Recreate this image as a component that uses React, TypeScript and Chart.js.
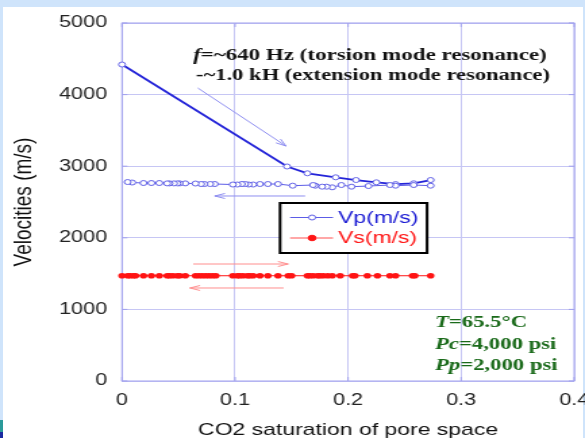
import React, { useEffect, useRef } from "react";
import { Chart, registerables } from "chart.js";

Chart.register(...registerables);

// ---------- data ----------
const X_TICKS = [0, 0.1, 0.2, 0.3, 0.4];
const Y_TICKS = [0, 1000, 2000, 3000, 4000, 5000];

// Vp forward path (CO2 injection)
const vpForwardX = [0, 0.146, 0.164, 0.189, 0.207, 0.225, 0.242, 0.258, 0.273];
const vpForwardY = [4420, 2996, 2901, 2845, 2807, 2775, 2750, 2761, 2807];
// Vp return path
const vpReturnX = [0.273, 0.258, 0.242, 0.237, 0.218, 0.203, 0.194, 0.186, 0.181, 0.177,
  0.171, 0.169, 0.151, 0.138, 0.129, 0.122, 0.116, 0.112, 0.109, 0.106,
  0.102, 0.098, 0.082, 0.078, 0.073, 0.070, 0.065, 0.056, 0.051, 0.049,
  0.046, 0.042, 0.040, 0.033, 0.026, 0.019, 0.009, 0.005];
const vpReturnY = [2728, 2737, 2728, 2737, 2723, 2714, 2737, 2705, 2714, 2714,
  2728, 2737, 2728, 2751, 2751, 2751, 2744, 2744, 2751, 2751,
  2744, 2744, 2751, 2751, 2751, 2751, 2758, 2760, 2760, 2760,
  2760, 2760, 2760, 2765, 2765, 2765, 2772, 2779];

// Vs
const vsX = [0, 0.005, 0.007, 0.010, 0.012, 0.019, 0.026, 0.033, 0.040, 0.042,
  0.045, 0.049, 0.051, 0.056, 0.065, 0.068, 0.071, 0.074, 0.077, 0.080,
  0.083, 0.098, 0.102, 0.104, 0.107, 0.111, 0.113, 0.116, 0.122, 0.129,
  0.138, 0.147, 0.150, 0.164, 0.166, 0.169, 0.173, 0.175, 0.178, 0.182,
  0.186, 0.193, 0.204, 0.206, 0.217, 0.226, 0.237, 0.242, 0.257, 0.259, 0.273];
const vsY = [1470, 1470, 1470, 1470, 1470, 1470, 1470, 1470, 1470, 1470,
  1470, 1470, 1470, 1470, 1470, 1470, 1470, 1470, 1470, 1470,
  1470, 1470, 1470, 1470, 1470, 1470, 1470, 1470, 1470, 1470,
  1470, 1470, 1470, 1470, 1470, 1470, 1470, 1470, 1470, 1470,
  1470, 1470, 1470, 1470, 1470, 1470, 1470, 1470, 1470, 1470, 1470];

const seriesLabels = ["Vp(m/s)", "Vs(m/s)"];

// direction arrows (data coordinates)
const arrowFromX = [0.067, 0.162, 0.063, 0.143];
const arrowFromY = [4092, 2584, 1634, 1299];
const arrowToX = [0.145, 0.082, 0.147, 0.060];
const arrowToY = [3282, 2584, 1634, 1299];
const arrowSeries = [0, 0, 1, 1];

const noteItalic = ["f", ""];
const noteText = ["=~640 Hz (torsion mode resonance)", "-~1.0 kH (extension mode resonance)"];
const condItalic = ["T", "Pc", "Pp"];
const condText = ["=65.5°C", "=4,000 psi", "=2,000 psi"];

const xTitle = "CO2 saturation of pore space";
const yTitle = "Velocities (m/s)";

// ---------- styling ----------
const LW = 433; // logical canvas width (stretched to 585 css px)
const H = 438;
const OUT_W = 585;
const SANS = '"Liberation Sans", Arial, Helvetica, sans-serif';
const SERIF = '"Liberation Serif", "Times New Roman", serif';
const GRID = "#c6c6f4";
const BORDER = "#a2a2ee";
const VP_COLOR = "#2424d8";
const VP_RET = "#5c5ce6";
const VS_COLOR = "#ff1414";
const ARROW_COLORS = ["#8e8ef0", "#ff8e8e"];

function drawRuns(ctx: CanvasRenderingContext2D, italic: string, rest: string, x: number, y: number, size: number, color: string) {
  ctx.fillStyle = color;
  ctx.textAlign = "left";
  ctx.textBaseline = "alphabetic";
  let cx = x;
  if (italic) {
    ctx.font = `italic bold ${size}px ${SERIF}`;
    ctx.fillText(italic, cx, y);
    cx += ctx.measureText(italic).width;
  }
  ctx.font = `bold ${size}px ${SERIF}`;
  ctx.fillText(rest, cx, y);
}

function drawArrow(ctx: CanvasRenderingContext2D, x1: number, y1: number, x2: number, y2: number, color: string) {
  ctx.strokeStyle = color;
  ctx.lineWidth = 1;
  ctx.beginPath();
  ctx.moveTo(x1, y1);
  ctx.lineTo(x2, y2);
  ctx.stroke();
  const ang = Math.atan2(y2 - y1, x2 - x1);
  const L = 8;
  const a = 0.32;
  ctx.beginPath();
  ctx.moveTo(x2 - L * Math.cos(ang - a), y2 - L * Math.sin(ang - a));
  ctx.lineTo(x2, y2);
  ctx.lineTo(x2 - L * Math.cos(ang + a), y2 - L * Math.sin(ang + a));
  ctx.stroke();
}

const overlayPlugin = {
  id: "overlay",
  beforeDatasetsDraw(chart: any) {
    const { ctx, chartArea: a, scales } = chart;
    ctx.save();
    ctx.strokeStyle = BORDER;
    ctx.lineWidth = 1;
    ctx.strokeRect(a.left, a.top, a.right - a.left, a.bottom - a.top);
    // inward tick marks
    const tk = 4;
    ctx.beginPath();
    for (const v of X_TICKS) {
      const px = scales.x.getPixelForValue(v);
      ctx.moveTo(px, a.bottom); ctx.lineTo(px, a.bottom - tk);
      ctx.moveTo(px, a.top); ctx.lineTo(px, a.top + tk);
    }
    for (const v of Y_TICKS) {
      const py = scales.y.getPixelForValue(v);
      ctx.moveTo(a.left, py); ctx.lineTo(a.left + tk, py);
      ctx.moveTo(a.right, py); ctx.lineTo(a.right - tk, py);
    }
    ctx.stroke();
    // arrows
    for (let i = 0; i < arrowFromX.length; i++) {
      drawArrow(
        ctx,
        scales.x.getPixelForValue(arrowFromX[i]),
        scales.y.getPixelForValue(arrowFromY[i]),
        scales.x.getPixelForValue(arrowToX[i]),
        scales.y.getPixelForValue(arrowToY[i]),
        ARROW_COLORS[arrowSeries[i]]
      );
    }
    ctx.restore();
  },
  afterDatasetsDraw(chart: any) {
    const { ctx } = chart;
    ctx.save();
    // notes at top
    drawRuns(ctx, noteItalic[0], noteText[0], 142.9, 60, 17, "#111");
    drawRuns(ctx, noteItalic[1], noteText[1], 145.1, 80, 16.7, "#111");
    // conditions
    const condY = [327, 348.5, 370];
    for (let i = 0; i < condText.length; i++) {
      drawRuns(ctx, condItalic[i], condText[i], 322, condY[i], 16.8, "#1a6a1a");
    }
    // legend
    const bx = 207.3, by = 203, bw = 108.8, bh = 50;
    ctx.fillStyle = "#fff";
    ctx.fillRect(bx, by, bw, bh);
    ctx.strokeStyle = "#000";
    ctx.lineWidth = 2;
    ctx.strokeRect(bx, by, bw, bh);
    const rows = [217.5, 238];
    chart.data.datasets.forEach((ds: any, i: number) => {
      const y = rows[i];
      ctx.strokeStyle = ds.legendLine;
      ctx.lineWidth = 1.2;
      ctx.beginPath();
      ctx.moveTo(214.7, y);
      ctx.lineTo(246.5, y);
      ctx.stroke();
      ctx.beginPath();
      ctx.arc(231, y, ds.pointRadius, 0, Math.PI * 2);
      ctx.fillStyle = ds.pointBackgroundColor;
      ctx.fill();
      ctx.lineWidth = 1;
      ctx.strokeStyle = ds.pointBorderColor;
      ctx.stroke();
      ctx.font = `17px ${SANS}`;
      ctx.textAlign = "left";
      ctx.textBaseline = "middle";
      ctx.fillStyle = ds.legendText;
      ctx.fillText(ds.label, 250.2, y + 0.5);
    });
    ctx.restore();
  },
};

export default function App() {
  const canvasRef = useRef<HTMLCanvasElement | null>(null);

  useEffect(() => {
    if (!canvasRef.current) return;
    const vpData = [
      ...vpForwardX.map((x, i) => ({ x, y: vpForwardY[i] })),
      ...vpReturnX.map((x, i) => ({ x, y: vpReturnY[i] })),
    ];
    const vsData = vsX.map((x, i) => ({ x, y: vsY[i] }));
    const forwardLast = vpForwardX.length - 1;

    const chart = new Chart(canvasRef.current, {
      type: "scatter",
      data: {
        datasets: [
          {
            label: seriesLabels[0],
            data: vpData,
            showLine: true,
            borderColor: VP_COLOR,
            borderWidth: 1.8,
            pointRadius: 2.5,
            pointBorderWidth: 1,
            pointBackgroundColor: "#ffffff",
            pointBorderColor: "#6060e6",
            clip: 10,
            segment: {
              borderWidth: (c: any) => (c.p0DataIndex >= forwardLast ? 1 : 1.8),
              borderColor: (c: any) => (c.p0DataIndex >= forwardLast ? VP_RET : VP_COLOR),
            },
            legendLine: VP_RET,
            legendText: "#1c1cd4",
            order: 1,
          } as any,
          {
            label: seriesLabels[1],
            data: vsData,
            showLine: true,
            borderColor: VS_COLOR,
            borderWidth: 1,
            pointRadius: 2.8,
            pointBorderWidth: 0,
            pointBackgroundColor: VS_COLOR,
            pointBorderColor: VS_COLOR,
            clip: 10,
            legendLine: "#ff5050",
            legendText: "#ff1a1a",
            order: 2,
          } as any,
        ],
      },
      options: {
        animation: false,
        responsive: false,
        devicePixelRatio: 1,
        events: [],
        layout: { padding: { left: 0, right: 8, top: 23, bottom: 0 } },
        plugins: {
          legend: { display: false },
          tooltip: { enabled: false },
        },
        scales: {
          x: {
            type: "linear",
            min: 0,
            max: 0.4,
            afterFit: (s: any) => {
              s.height = 57;
              s.paddingLeft = 0;
              s.paddingRight = 0;
            },
            afterBuildTicks: (s: any) => {
              s.ticks = X_TICKS.map((v) => ({ value: v }));
            },
            ticks: {
              padding: 10,
              color: "#222",
              font: { family: SANS, size: 16 },
              callback: (v: any) => String(Math.round(Number(v) * 10) / 10),
              maxRotation: 0,
            },
            grid: { color: GRID, drawTicks: false, lineWidth: 1 },
            border: { display: false },
            title: {
              display: true,
              text: xTitle,
              color: "#111",
              font: { family: SANS, size: 17 },
              padding: { top: 0, bottom: -2.5 },
            },
          },
          y: {
            type: "linear",
            min: 0,
            max: 5000,
            afterFit: (s: any) => {
              s.width = 90.3;
              s.paddingTop = 0;
              s.paddingBottom = 0;
            },
            afterBuildTicks: (s: any) => {
              s.ticks = Y_TICKS.map((v) => ({ value: v }));
            },
            ticks: {
              padding: 11,
              color: "#222",
              font: { family: SANS, size: 16 },
              callback: (v: any) => String(v),
            },
            grid: { color: GRID, drawTicks: false, lineWidth: 1 },
            border: { display: false },
            title: {
              display: true,
              text: yTitle,
              color: "#111",
              font: { family: SANS, size: 19 },
              padding: { top: 6, bottom: 0 },
            },
          },
        },
      } as any,
      plugins: [overlayPlugin],
    });
    return () => chart.destroy();
  }, []);

  return (
    <div style={{ position: "fixed", left: 0, top: 0, width: OUT_W, height: H, background: "#cfe4fb", overflow: "hidden" }}>
      <div style={{ position: "absolute", left: 3, top: 7, width: 580, height: H - 7, background: "#ffffff" }} />
      <div style={{ position: "absolute", left: 0, top: 420, width: 3, height: 12, background: "#2a9a9a" }} />
      <div style={{ position: "absolute", left: 0, top: 432, width: 3, height: 6, background: "#1a2aa0" }} />
      <canvas
        ref={canvasRef}
        width={LW}
        height={H}
        style={{ position: "absolute", left: 0, top: 0, width: OUT_W, height: H, display: "block" }}
      />
    </div>
  );
}
